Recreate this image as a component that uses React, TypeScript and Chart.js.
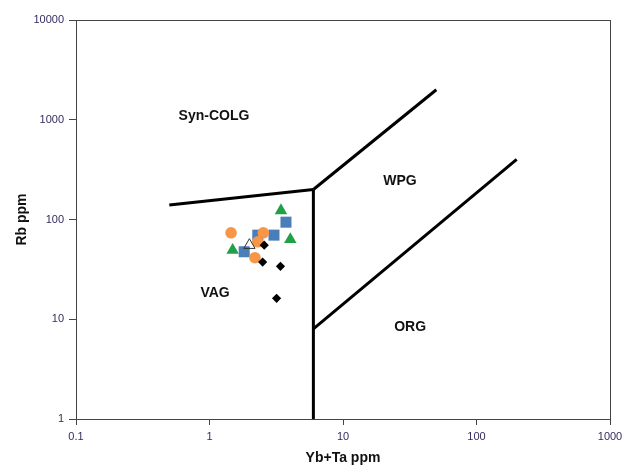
import React, { useEffect, useRef } from "react";
import { Chart, registerables } from "chart.js";

Chart.register(...registerables);

// Sample data (Yb+Ta ppm, Rb ppm)
const greenX = [3.43, 4.03, 1.49];
const greenY = [123, 63, 49.3];
const blueX = [3.74, 3.04, 2.3, 1.82];
const blueY = [94, 69.7, 69.7, 47.5];
const orangeX = [1.45, 2.53, 2.3, 2.19];
const orangeY = [73.6, 73.6, 59.8, 41.4];
const openX = [1.99];
const openY = [55.3];
const diamondX = [2.57, 2.5, 3.4, 3.18];
const diamondY = [55.3, 37.4, 33.9, 16.2];

// Field boundaries (Pearce et al. 1984)
const boundVagColgX = [0.5, 6];
const boundVagColgY = [140, 200];
const boundVertX = [6, 6];
const boundVertY = [1, 200];
const boundWpgColgX = [6, 50];
const boundWpgColgY = [200, 2000];
const boundOrgWpgX = [6, 200];
const boundOrgWpgY = [8, 400];

// Field labels
const fieldNames = ["Syn-COLG", "WPG", "ORG", "VAG"];
const fieldX = [1.08, 26.7, 31.8, 1.1];
const fieldY = [1096, 240, 8.3, 18.2];

const xTicks = [0.1, 1, 10, 100, 1000];
const yTicks = [1, 10, 100, 1000, 10000];

const FONT = "'Liberation Sans', Arial, sans-serif";
const TICK_COLOR = "#352b5e";

const pts = (xs: number[], ys: number[]) => xs.map((x, i) => ({ x, y: ys[i] }));

export default function App() {
  const ref = useRef<HTMLCanvasElement | null>(null);
  useEffect(() => {
    document.body.style.margin = "0";
    const canvas = ref.current;
    if (!canvas) return;

    const line = (xs: number[], ys: number[]) => ({
      type: "line" as const,
      data: pts(xs, ys),
      showLine: true,
      borderColor: "#000",
      borderWidth: 3,
      pointRadius: 0,
      fill: false,
      order: 10,
    });

    const framePlugin = {
      id: "frameAndLabels",
      afterDatasetsDraw(chart: any) {
        const { ctx, chartArea, scales } = chart;
        ctx.save();
        ctx.strokeStyle = "#444";
        ctx.lineWidth = 1;
        ctx.strokeRect(chartArea.left + 0.5, chartArea.top + 0.5, chartArea.right - chartArea.left, chartArea.bottom - chartArea.top);
        ctx.fillStyle = "#111";
        ctx.font = `bold 14px ${FONT}`;
        ctx.textAlign = "center";
        ctx.textBaseline = "middle";
        fieldNames.forEach((n, i) => {
          ctx.fillText(n, scales.x.getPixelForValue(fieldX[i]), scales.y.getPixelForValue(fieldY[i]));
        });
        ctx.restore();
      },
    };

    const chart = new Chart(canvas, {
      type: "scatter",
      data: {
        datasets: [
          {
            data: pts(diamondX, diamondY),
            pointStyle: "rectRot",
            pointRadius: 4.6,
            backgroundColor: "#000",
            borderColor: "#000",
            borderWidth: 0,
            order: 1,
          },
          {
            data: pts(openX, openY),
            pointStyle: "triangle",
            pointRadius: 6.5,
            backgroundColor: "rgba(255,255,255,0)",
            borderColor: "#333",
            borderWidth: 1,
            order: 2,
          },
          {
            data: pts(orangeX, orangeY),
            pointStyle: "circle",
            pointRadius: 5.8,
            backgroundColor: "#F79646",
            borderColor: "#F79646",
            borderWidth: 0,
            order: 3,
          },
          {
            data: pts(blueX, blueY),
            pointStyle: "rect",
            pointRadius: 7.8,
            backgroundColor: "#4A7EBB",
            borderColor: "#4A7EBB",
            borderWidth: 0,
            order: 4,
          },
          {
            data: pts(greenX, greenY),
            pointStyle: "triangle",
            pointRadius: 7.2,
            backgroundColor: "#22A046",
            borderColor: "#22A046",
            borderWidth: 0,
            order: 5,
          },
          line(boundVagColgX, boundVagColgY),
          line(boundVertX, boundVertY),
          line(boundWpgColgX, boundWpgColgY),
          line(boundOrgWpgX, boundOrgWpgY),
        ] as any,
      },
      options: {
        animation: false,
        responsive: false,
        events: [],
        layout: { padding: { top: 20, right: 13, left: 0, bottom: 0 } },
        plugins: { legend: { display: false }, tooltip: { enabled: false } },
        scales: {
          x: {
            type: "logarithmic",
            min: 0.1,
            max: 1000,
            afterBuildTicks: (s: any) => {
              s.ticks = xTicks.map((v) => ({ value: v }));
            },
            afterFit: (s: any) => {
              s.height = 47;
              s.paddingRight = 0;
              s.paddingLeft = 0;
            },
            ticks: {
              callback: (v: any) => String(v),
              font: { family: FONT, size: 11 },
              color: TICK_COLOR,
              padding: 5,
              maxRotation: 0,
              autoSkip: false,
            },
            grid: { drawOnChartArea: false, tickLength: 6, color: "#444" },
            border: { color: "#444" },
            title: {
              display: true,
              text: "Yb+Ta ppm",
              font: { family: FONT, size: 14, weight: "bold", lineHeight: 1 },
              color: "#111",
              padding: { top: 0, bottom: 1 },
            },
          },
          y: {
            type: "logarithmic",
            min: 1,
            max: 10000,
            afterBuildTicks: (s: any) => {
              s.ticks = yTicks.map((v) => ({ value: v }));
            },
            afterFit: (s: any) => {
              s.width = 76;
              s.paddingTop = 0;
              s.paddingBottom = 0;
            },
            ticks: {
              callback: (v: any) => String(v),
              font: { family: FONT, size: 11 },
              color: TICK_COLOR,
              padding: 5,
              autoSkip: false,
            },
            grid: { drawOnChartArea: false, tickLength: 7, color: "#444" },
            border: { color: "#444" },
            title: {
              display: true,
              text: "Rb ppm",
              font: { family: FONT, size: 14, weight: "bold", lineHeight: 1 },
              color: "#111",
              padding: { top: 15, bottom: 0 },
            },
          },
        },
      },
      plugins: [framePlugin],
    });
    return () => chart.destroy();
  }, []);

  return (
    <div style={{ position: "absolute", left: 0, top: 0, width: 623, height: 466 }}>
      <canvas ref={ref} width={623} height={466} />
    </div>
  );
}
